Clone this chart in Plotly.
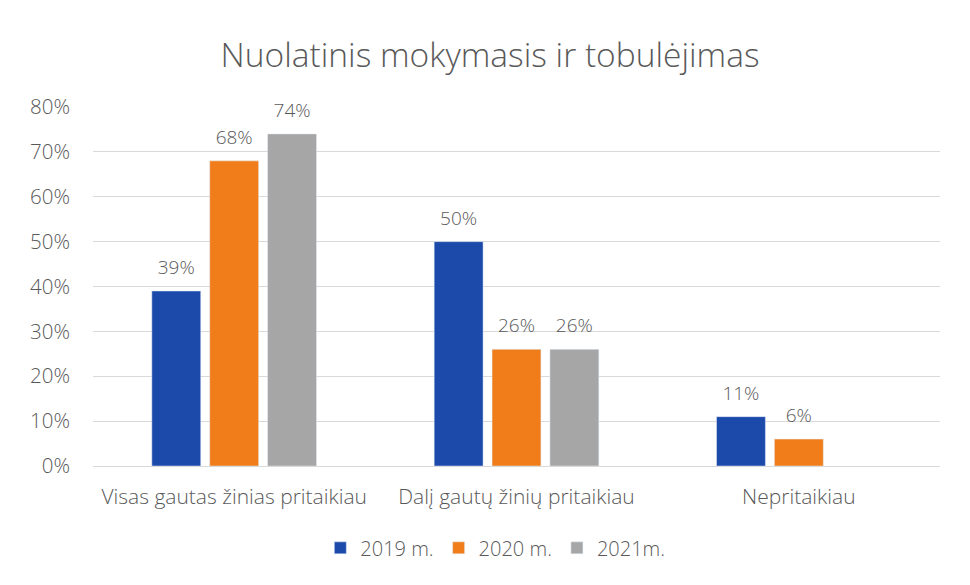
import plotly.graph_objects as go

categories = ["Visas gautas žinias pritaikiau", "Dalį gautų žinių pritaikiau", "Nepritaikiau"]
series_names = ["2019 m.", "2020 m.", "2021m."]
values_2019 = [0.39, 0.50, 0.11]
values_2020 = [0.68, 0.26, 0.06]
values_2021 = [0.74, 0.26, None]
tick_vals = [0, 0.1, 0.2, 0.3, 0.4, 0.5, 0.6, 0.7, 0.8]
tick_text = ["0%", "10%", "20%", "30%", "40%", "50%", "60%", "70%", "80%"]
colors = ["#1c4aab", "#f07d1a", "#a6a6a6"]

FONT = "Open Sans"
GREY = "#595959"
BARGAP = 0.385

fig = go.Figure()
all_vals = [values_2019, values_2020, values_2021]
for name, vals, col in zip(series_names, all_vals, colors):
    fig.add_trace(go.Bar(
        x=categories, y=vals, name=name, marker_color=col,
    ))
# data labels, aligned with the grouped bars
for name, vals in zip(series_names, all_vals):
    fig.add_trace(go.Scatter(
        x=categories, y=vals, mode="markers+text", showlegend=False, hoverinfo="skip",
        marker=dict(size=18, opacity=0, color="white"),
        text=[f"{round(v*100)}%" if v is not None else "" for v in vals],
        textposition="top center", cliponaxis=False,
        textfont=dict(family=FONT, size=19, color=GREY, weight=300),
    ))

fig.update_layout(
    width=970, height=585,
    paper_bgcolor="white", plot_bgcolor="white",
    margin=dict(l=85, r=38, t=99, b=127),
    barmode="group", bargap=BARGAP, bargroupgap=0.155,
    scattermode="group", scattergap=BARGAP,
    title=dict(text="Nuolatinis mokymasis ir tobulėjimas", x=0.497, xanchor="center",
               y=0.92, yanchor="middle",
               font=dict(family=FONT, size=33.5, color=GREY, weight=300)),
    font=dict(family=FONT, color=GREY),
    legend=dict(orientation="h", x=0.475, xanchor="center", y=-0.228, yanchor="middle",
                font=dict(family=FONT, size=20, color=GREY, weight=300), traceorder="normal",
                itemwidth=30),
)
fig.update_yaxes(range=[0, 0.8], tickvals=tick_vals, ticktext=tick_text,
                 showgrid=True, gridcolor="#d9d9d9", gridwidth=1, zeroline=True,
                 zerolinecolor="#d9d9d9", zerolinewidth=1,
                 tickfont=dict(family=FONT, size=20.5, color=GREY, weight=300),
                 ticklabelstandoff=22, showline=False)
fig.update_xaxes(tickfont=dict(family=FONT, size=21, color=GREY, weight=300), showline=False,
                 ticklabelstandoff=16)

fig.write_html("out.html")
